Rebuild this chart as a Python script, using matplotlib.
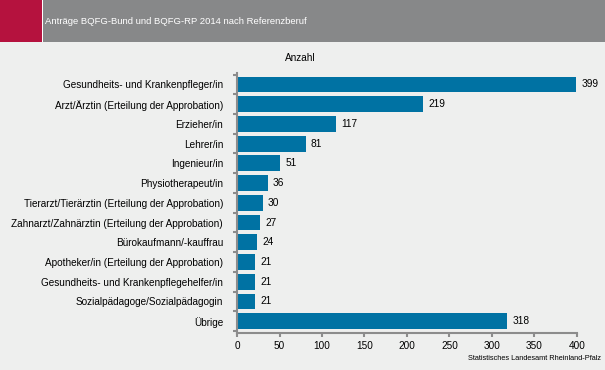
import matplotlib
matplotlib.use("Agg")
import matplotlib.pyplot as plt
from matplotlib.patches import Rectangle
import numpy as np

plt.rcParams['font.family'] = ['Liberation Sans', 'DejaVu Sans']

categories = [
    "Gesundheits- und Krankenpfleger/in",
    "Arzt/Ärztin (Erteilung der Approbation)",
    "Erzieher/in",
    "Lehrer/in",
    "Ingenieur/in",
    "Physiotherapeut/in",
    "Tierarzt/Tierärztin (Erteilung der Approbation)",
    "Zahnarzt/Zahnärztin (Erteilung der Approbation)",
    "Bürokaufmann/-kauffrau",
    "Apotheker/in (Erteilung der Approbation)",
    "Gesundheits- und Krankenpflegehelfer/in",
    "Sozialpädagoge/Sozialpädagogin",
    "Übrige",
]
values = [399, 219, 117, 81, 51, 36, 30, 27, 24, 21, 21, 21, 318]
xticks = [0, 50, 100, 150, 200, 250, 300, 350, 400]

title = "Anträge BQFG-Bund und BQFG-RP 2014 nach Referenzberuf"
xlabel_top = "Anzahl"
source = "Statistisches Landesamt Rheinland-Pfalz"

BG = "#EEEFEE"
BAR = "#0072A3"
HEAD = "#878889"
RED = "#B5123E"
AX = "#8C8C8C"

W, H = 605, 370
fig = plt.figure(figsize=(W / 100, H / 100), dpi=100, facecolor=BG)

# header
fig.patches.append(Rectangle((0, 1 - 42 / H), 1, 42 / H, transform=fig.transFigure,
                             facecolor=HEAD, edgecolor="none", zorder=0))
fig.patches.append(Rectangle((0, 1 - 42 / H), 42 / W, 42 / H, transform=fig.transFigure,
                             facecolor=RED, edgecolor="none", zorder=1))
fig.patches.append(Rectangle((42 / W, 1 - 42 / H), 1.2 / W, 42 / H, transform=fig.transFigure,
                             facecolor="white", edgecolor="none", zorder=1))
fig.text(45 / W, 1 - 21 / H, title, color="white", fontsize=6.8, va="center", ha="left")

ax_left, ax_right = 237 / W, 577 / W
ax_top, ax_bottom = 72.6 / H, 333 / H
ax = fig.add_axes([ax_left, 1 - ax_bottom, ax_right - ax_left, ax_bottom - ax_top])
ax.set_facecolor(BG)

y = np.arange(len(categories))
ax.barh(y, values, height=0.8, color=BAR, zorder=2)
for yi, v in zip(y, values):
    ax.text(v + 6, yi, str(v), va="center", ha="left", fontsize=7.3, color="black")

ax.set_xlim(0, 400)
ax.set_ylim(len(categories) - 0.4, -0.6)
ax.set_xticks(xticks)
ax.set_xticklabels([str(t) for t in xticks], fontsize=7.2)
ax.set_yticks(y)
ax.set_yticklabels(categories, fontsize=7.2)
ax.tick_params(axis="y", length=0, pad=10)
ax.set_yticks(np.arange(-0.5, len(categories), 1), minor=True)
ax.tick_params(axis="y", which="minor", length=3, color=AX, width=1.5)
ax.tick_params(axis="x", length=3, color=AX, width=1.5, pad=3)

for s in ["top", "right"]:
    ax.spines[s].set_visible(False)
for s in ["left", "bottom"]:
    ax.spines[s].set_color(AX)
    ax.spines[s].set_linewidth(1.5)

fig.text(300 / W, 1 - 58 / H, xlabel_top, fontsize=7.2, ha="center", va="center")
fig.text(601 / W, 1 - 358 / H, source, fontsize=5.3, ha="right", va="center")

fig.savefig("out.png", dpi=100, facecolor=BG)
